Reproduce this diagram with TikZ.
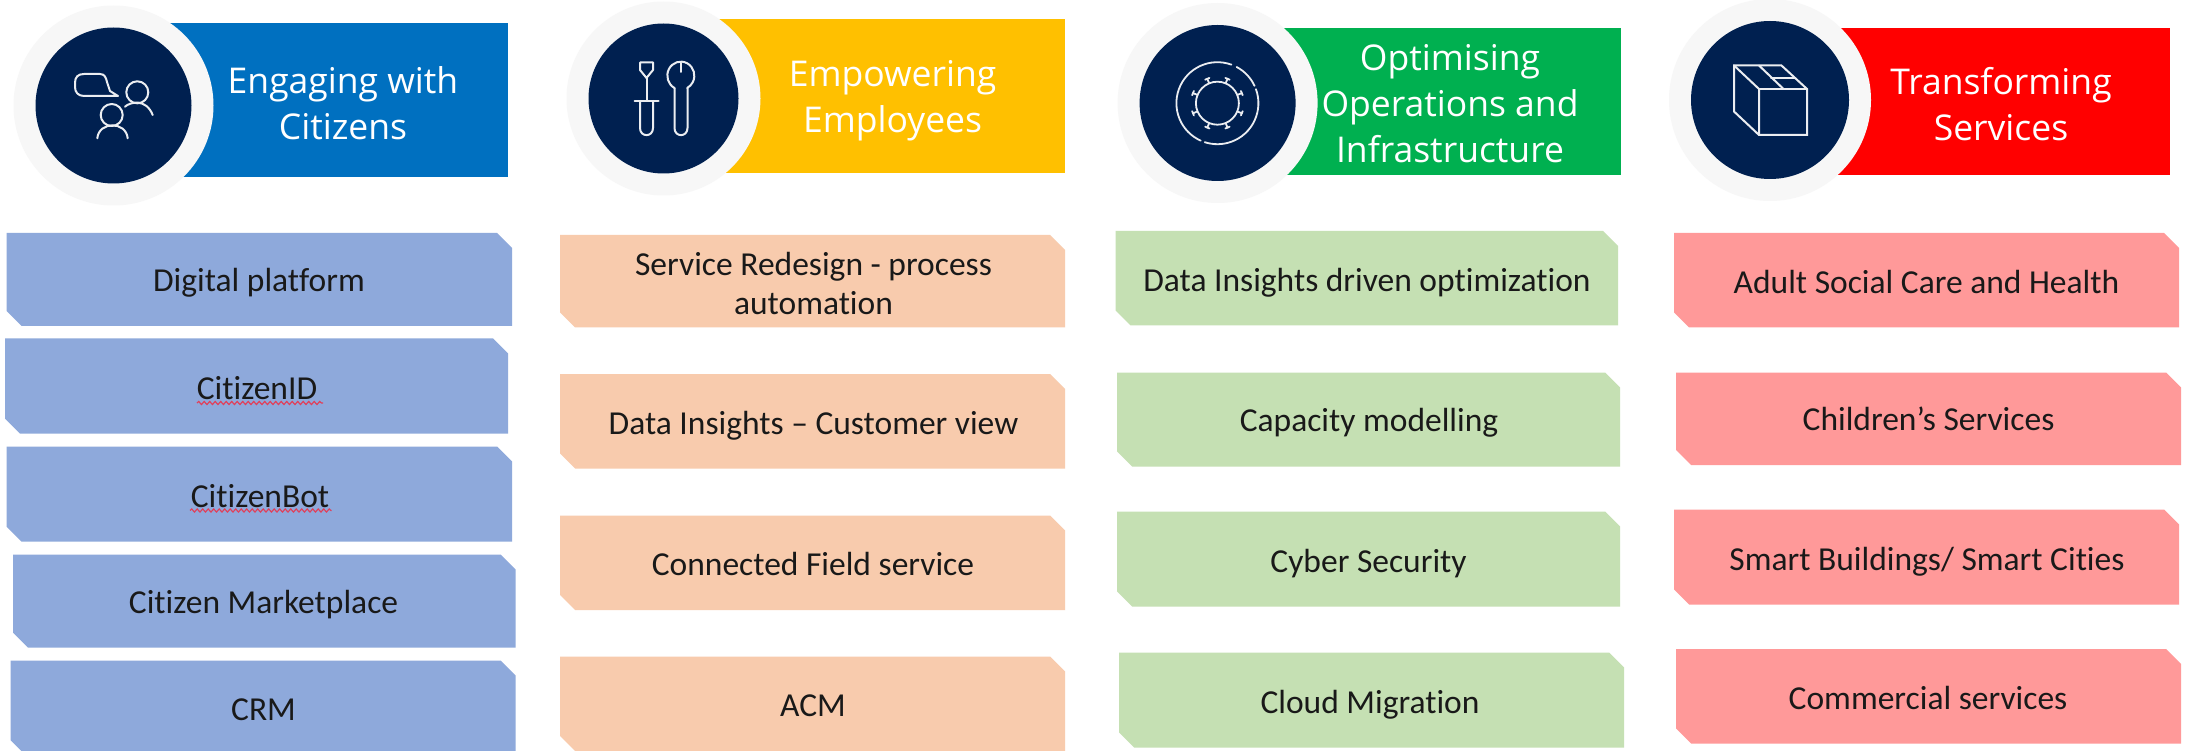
\documentclass[tikz,border=0pt]{standalone}
\usepackage{fontspec}
\setmainfont{Carlito}[Ligatures=NoCommon]
\newfontfamily\headfont{Open Sans}
\usetikzlibrary{decorations.pathmorphing}
\definecolor{navy}{HTML}{002050}
\definecolor{halo}{HTML}{F7F7F7}
\definecolor{bannerA}{HTML}{0070C0}
\definecolor{bannerB}{HTML}{FFC000}
\definecolor{bannerC}{HTML}{00B050}
\definecolor{bannerD}{HTML}{FF0000}
\definecolor{boxA}{HTML}{8EA9DB}
\definecolor{boxB}{HTML}{F8CBAD}
\definecolor{boxC}{HTML}{C5E0B3}
\definecolor{boxD}{HTML}{FF9999}
\definecolor{squiggle}{HTML}{E0405A}
\tikzset{
  headtext/.style={text=white,align=center,inner sep=0pt,font=\headfont\fontsize{35.5}{46}\selectfont},
  boxtext/.style={text=black!90,align=center,inner sep=0pt,font=\fontsize{33.5}{39}\selectfont},
  icon/.style={draw=white!92!navy,line width=2pt,line cap=round,line join=round},
  thinicon/.style={icon,line width=1.8pt},
  spell/.style={draw=squiggle,line width=1.2pt,decorate,decoration={snake,amplitude=1.5pt,segment length=5.5pt}}
}
% x1 y1 x2 y2 colour name cx cy text
\newcommand{\cutbox}[9]{%
  \fill[#5] (#1,#2) -- ({#3-15},#2) -- (#3,{#2+15}) -- (#3,#4) -- ({#1+15},#4) -- (#1,{#4-15}) -- cycle;
  \node[boxtext] (#6) at (#7,{#8+1}) {\strut #9};
}
\newcommand{\badge}[8]{% banner colour, xleft, ytop, xright, ybottom, cx, cy, navy radius
  \fill[#1] (#2,#3) rectangle (#4,#5);
  \fill[halo] (#6,#7) circle[radius=#8+22];
  \fill[navy] (#6,#7) circle[radius=#8];
}
\begin{document}
\begin{tikzpicture}[x=1pt,y=-1pt]
\useasboundingbox (0,0) rectangle (2193,751);
\clip (0,0) rectangle (2193,751);
\fill[white] (0,0) rectangle (2193,751);

% headers
\badge{bannerA}{114}{23}{508}{177}{113.5}{105.5}{78}
\badge{bannerB}{664}{19}{1065}{173}{663.5}{98.5}{75}
\badge{bannerC}{1218}{28.5}{1620.5}{175.5}{1217.6}{103}{78}
\badge{bannerD}{1770}{28.5}{2170}{175.5}{1770}{100}{79}

\node[headtext] (hA) at (343,107.5) {\strut Engaging with\\\strut Citizens};
\node[headtext] (hB) at (892.6,100.5) {\strut Empowering\\\strut Employees};
\node[headtext] (hC) at (1450,107.5) {\strut Optimising\\\strut Operations and\\\strut Infrastructure};
\node[headtext] (hD) at (2001,108) {\strut Transforming\\\strut Services};

% icon 1: speech bubble and two people
\draw[icon] (118,96) -- (84,96) .. controls (78,96) and (75,92) .. (75,87)
  -- (75,83) .. controls (75,77) and (78,74) .. (84,74) -- (100,74)
  .. controls (105,74) and (106,78) .. (107,82) -- (110,91) -- cycle;
\draw[icon] (137.3,92.3) circle[radius=11];
\draw[icon] (125,106.7) .. controls (130,102) and (146,98) .. (152.7,115);
\draw[icon] (111.7,115) circle[radius=11];
\draw[icon] (97.3,138.3) .. controls (99,121) and (126,121) .. (127.7,138.3);

% icon 2: screwdriver and spanner
\draw[icon] (640,62.5) -- (653,62.5) -- (653,70) -- (646.5,78) -- (640,70) -- cycle;
\draw[icon] (646.5,78) -- (646.5,101);
\draw[icon] (634.5,101) -- (658.5,101);
\draw[icon] (640,101) -- (640,128) .. controls (640,137.5) and (653,137.5) .. (653,128) -- (653,101);
\draw[icon] (674.5,88) arc[start angle=118,end angle=422,x radius=13.5,y radius=14];
\draw[icon] (674.5,88) -- (674.5,128) .. controls (674.5,137.5) and (687.5,137.5) .. (687.5,128) -- (687.5,88);
\draw[icon] (681,63) -- (681,72);

% icon 3: gear in a broken ring
\begin{scope}[shift={(1217.4,103.2)},y=1pt]
  \draw[thinicon] (70:41) arc[start angle=70,end angle=246,radius=41];
  \draw[thinicon] (62:41) arc[start angle=62,end angle=25,radius=41];
  \draw[thinicon] (20:41) arc[start angle=20,end angle=-108,radius=41];
  \draw[thinicon] (0,0) circle[radius=21.5];
  \foreach \a in {22.5,67.5,...,337.5}{
    \draw[thinicon] (\a:21.5) -- (\a:26.5);
    \draw[thinicon] (\a+5:26.5) -- (\a-5:26.5);
  }
\end{scope}

% icon 4: parcel
\draw[icon,line join=miter] (1734,65.5) -- (1781.5,65.5) -- (1807,89) -- (1807,135) -- (1759,135) -- (1734,111.5) -- cycle;
\draw[icon,line join=miter] (1734,65.5) -- (1759,89) -- (1759,135);
\draw[icon,line join=miter] (1759,89) -- (1807,89);
\draw[icon,line join=miter] (1759,65.5) -- (1783.5,89);
\draw[icon,line join=miter] (1771,78.5) -- (1795,78.5);

% column 1
\cutbox{6.5}{233}{512}{326}{boxA}{a1}{259}{283}{Digital platform}
\cutbox{5}{338.5}{508}{433.5}{boxA}{a2}{257}{391}{CitizenID}
\cutbox{6.5}{446.5}{512}{541.5}{boxA}{a3}{260}{499}{CitizenBot}
\cutbox{13}{554.5}{515.5}{647.5}{boxA}{a4}{263.5}{604.5}{Citizen Marketplace}
\cutbox{10.5}{660.5}{515.5}{755}{boxA}{a5}{263.5}{712}{CRM}
\draw[spell] (197,403) -- (323,403);
\draw[spell] (190,510.5) -- (331.5,510.5);

% column 2
\cutbox{560}{235}{1065}{327.5}{boxB}{b1}{813.5}{286}{Service Redesign - process\\\strut automation}
\cutbox{560}{374}{1065}{468.5}{boxB}{b2}{813.5}{426}{Data Insights – Customer view}
\cutbox{560}{515.5}{1065}{610}{boxB}{b3}{813}{567}{Connected Field service}
\cutbox{560}{656.5}{1065}{751}{boxB}{b4}{813}{708}{ACM}

% column 3
\cutbox{1115.5}{231}{1618}{325.5}{boxC}{c1}{1367}{283}{Data Insights driven optimization}
\cutbox{1117}{372.5}{1620}{466.5}{boxC}{c2}{1369}{423}{Capacity modelling}
\cutbox{1117}{511.5}{1620}{606.5}{boxC}{c3}{1368.5}{563.5}{Cyber Security}
\cutbox{1119}{652.5}{1624}{747.5}{boxC}{c4}{1370}{704.5}{Cloud Migration}

% column 4
\cutbox{1674}{233}{2179}{327.5}{boxD}{d1}{1926.5}{284.5}{Adult Social Care and Health}
\cutbox{1676}{372.5}{2181}{465}{boxD}{d2}{1928.5}{422}{Children’s Services}
\cutbox{1674}{509.5}{2179}{604.5}{boxD}{d3}{1927}{562}{Smart Buildings/ Smart Cities}
\cutbox{1676}{649}{2181}{743.5}{boxD}{d4}{1928}{701}{Commercial services}
\end{tikzpicture}
\end{document}
